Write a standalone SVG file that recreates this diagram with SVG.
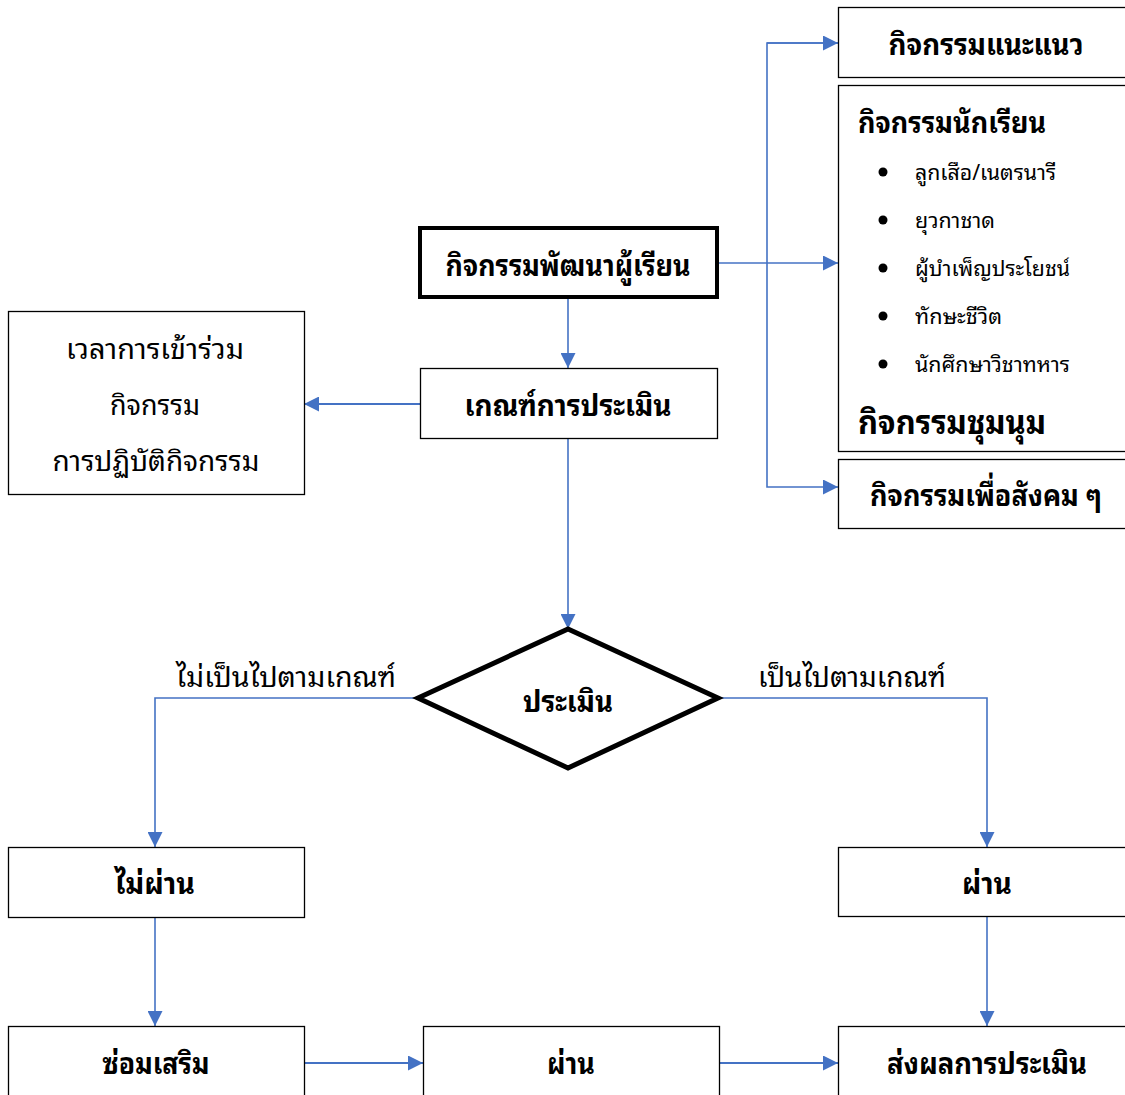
<svg xmlns="http://www.w3.org/2000/svg" width="1125" height="1095" viewBox="0 0 1125 1095">
<defs>
<marker id="ah2" viewBox="0 0 10 10" refX="10" refY="5" markerWidth="15" markerHeight="15" markerUnits="userSpaceOnUse" orient="auto">
<path d="M0,0 L10,5 L0,10 z" fill="#4472C4"/>
</marker>
</defs>
<style>
text{font-family:"Noto Sans Thai Looped","Noto Sans Thai","Noto Sans","DejaVu Sans",sans-serif;fill:#000}
.b{font-weight:bold;font-size:30px}
.r{font-size:28px}
.s{font-size:21px}
.box{fill:#fff;stroke:#000;stroke-width:1.3}
.c{fill:none;stroke:#4472C4;stroke-width:1.6}
.c2{fill:none;stroke:#4472C4;stroke-width:2.2}
</style>
<rect width="1125" height="1095" fill="#fff"/>
<g id="connectors">
<path class="c" d="M717,263 H838" marker-end="url(#ah2)"/>
<path class="c" d="M838,43 H767 V487 H838" marker-end="url(#ah2)"/>
<path class="c" d="M767,43 H838" marker-end="url(#ah2)"/>
<path class="c" d="M568,297 V368" marker-end="url(#ah2)"/>
<path class="c2" d="M420,404 H304" marker-end="url(#ah2)"/>
<path class="c" d="M568,438 V629" marker-end="url(#ah2)"/>
<path class="c" d="M418,698 H155 V847" marker-end="url(#ah2)"/>
<path class="c" d="M718,698 H987 V847" marker-end="url(#ah2)"/>
<path class="c" d="M155,917 V1026" marker-end="url(#ah2)"/>
<path class="c" d="M987,916 V1026" marker-end="url(#ah2)"/>
<path class="c2" d="M304,1063 H423" marker-end="url(#ah2)"/>
<path class="c2" d="M719,1063 H838" marker-end="url(#ah2)"/>
</g>
<g id="n-guidance">
<rect class="box" x="838.5" y="7.5" width="300" height="70"/>
<text class="b" x="986" y="55" text-anchor="middle" textLength="195" lengthAdjust="spacingAndGlyphs">กิจกรรมแนะแนว</text>
</g>
<g id="n-student">
<rect class="box" x="838.5" y="85.5" width="300" height="366"/>
<text class="b" x="858" y="133" textLength="188" lengthAdjust="spacingAndGlyphs">กิจกรรมนักเรียน</text>
<circle cx="883" cy="172" r="4.5"/>
<circle cx="883" cy="220" r="4.5"/>
<circle cx="883" cy="268" r="4.5"/>
<circle cx="883" cy="316" r="4.5"/>
<circle cx="883" cy="364" r="4.5"/>
<text class="s" x="915" y="180" textLength="141" lengthAdjust="spacingAndGlyphs">ลูกเสือ/เนตรนารี</text>
<text class="s" x="915" y="228" textLength="80" lengthAdjust="spacingAndGlyphs">ยุวกาชาด</text>
<text class="s" x="915" y="276" textLength="155" lengthAdjust="spacingAndGlyphs">ผู้บำเพ็ญประโยชน์</text>
<text class="s" x="915" y="324" textLength="87" lengthAdjust="spacingAndGlyphs">ทักษะชีวิต</text>
<text class="s" x="915" y="372" textLength="155" lengthAdjust="spacingAndGlyphs">นักศึกษาวิชาทหาร</text>
<text class="b" x="858" y="434" style="font-size:33px" textLength="188" lengthAdjust="spacingAndGlyphs">กิจกรรมชุมนุม</text>
</g>
<g id="n-social">
<rect class="box" x="838.5" y="459.5" width="300" height="69"/>
<text class="b" x="986" y="506" text-anchor="middle" textLength="232" lengthAdjust="spacingAndGlyphs">กิจกรรมเพื่อสังคม ๆ</text>
</g>
<g id="n-dev">
<rect x="420" y="228" width="297" height="69" fill="#fff" stroke="#000" stroke-width="4"/>
<text class="b" x="568" y="276" text-anchor="middle" textLength="245" lengthAdjust="spacingAndGlyphs">กิจกรรมพัฒนาผู้เรียน</text>
</g>
<g id="n-criteria">
<rect class="box" x="420.5" y="368.5" width="297" height="70"/>
<text class="b" x="568" y="416" text-anchor="middle" textLength="207" lengthAdjust="spacingAndGlyphs">เกณฑ์การประเมิน</text>
</g>
<g id="n-criteria-list">
<rect class="box" x="8.5" y="311.5" width="296" height="183"/>
<text class="r" x="155" y="359" text-anchor="middle" textLength="178" lengthAdjust="spacingAndGlyphs">เวลาการเข้าร่วม</text>
<text class="r" x="155" y="415" text-anchor="middle" textLength="90" lengthAdjust="spacingAndGlyphs">กิจกรรม</text>
<text class="r" x="156" y="471" text-anchor="middle" textLength="207" lengthAdjust="spacingAndGlyphs">การปฏิบัติกิจกรรม</text>
</g>
<g id="n-assess">
<polygon points="568,629 718,698 568,768 418,698" fill="#fff" stroke="#000" stroke-width="5" stroke-linejoin="miter"/>
<text class="b" x="568" y="712" text-anchor="middle" textLength="90" lengthAdjust="spacingAndGlyphs">ประเมิน</text>
</g>
<g id="labels">
<text class="r" x="286" y="687" text-anchor="middle" textLength="220" lengthAdjust="spacingAndGlyphs">ไม่เป็นไปตามเกณฑ์</text>
<text class="r" x="852" y="687" text-anchor="middle" textLength="188" lengthAdjust="spacingAndGlyphs">เป็นไปตามเกณฑ์</text>
</g>
<g id="n-fail">
<rect class="box" x="8.5" y="847.5" width="296" height="70"/>
<text class="b" x="155" y="894" text-anchor="middle" textLength="80" lengthAdjust="spacingAndGlyphs">ไม่ผ่าน</text>
</g>
<g id="n-pass">
<rect class="box" x="838.5" y="847.5" width="300" height="69"/>
<text class="b" x="987" y="894" text-anchor="middle" textLength="50" lengthAdjust="spacingAndGlyphs">ผ่าน</text>
</g>
<g id="n-remedial">
<rect class="box" x="8.5" y="1026.5" width="296" height="80"/>
<text class="b" x="156" y="1074" text-anchor="middle" textLength="107" lengthAdjust="spacingAndGlyphs">ซ่อมเสริม</text>
</g>
<g id="n-pass2">
<rect class="box" x="423.5" y="1026.5" width="296" height="80"/>
<text class="b" x="571" y="1074" text-anchor="middle" textLength="48" lengthAdjust="spacingAndGlyphs">ผ่าน</text>
</g>
<g id="n-report">
<rect class="box" x="838.5" y="1026.5" width="300" height="80"/>
<text class="b" x="987" y="1074" text-anchor="middle" textLength="200" lengthAdjust="spacingAndGlyphs">ส่งผลการประเมิน</text>
</g>
</svg>
